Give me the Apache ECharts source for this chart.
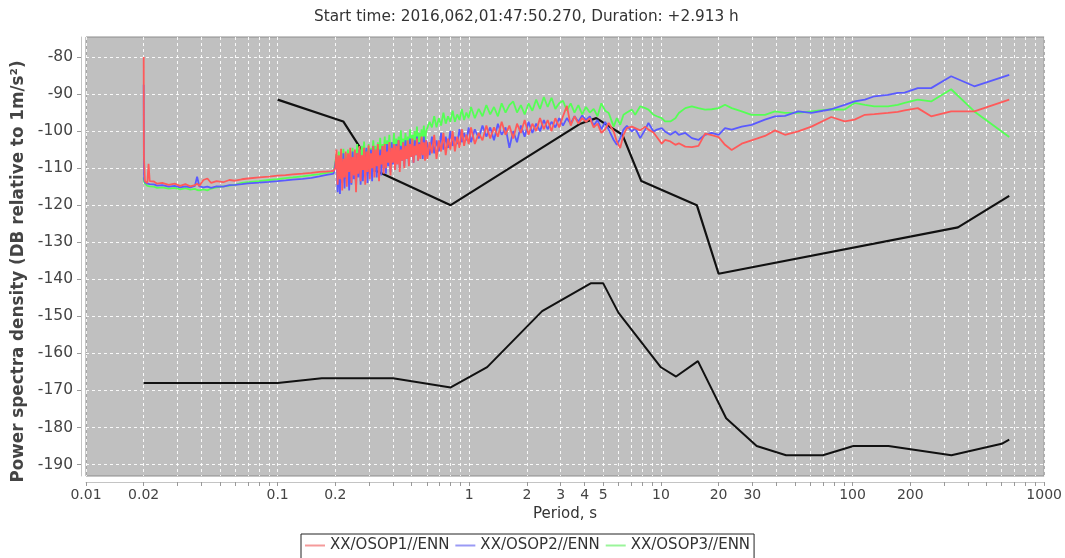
<!DOCTYPE html>
<html>
<head>
<meta charset="utf-8">
<script src="https://cdn.jsdelivr.net/npm/echarts@6.0.0/dist/echarts.min.js"></script>
<style>
html,body{margin:0;padding:0;background:#fff;}
#chart{width:1065px;height:558px;}
</style>
</head>
<body>
<div id="chart"></div>
<script>
// ---------- DATA ----------
const titleText = 'Start time: 2016,062,01:47:50.270, Duration: +2.913 h';
const seriesNames = ['XX/OSOP1//ENN', 'XX/OSOP2//ENN', 'XX/OSOP3//ENN'];

const xTickValues = [0.01,0.02,0.03,0.04,0.05,0.06,0.07,0.08,0.09,
  0.1,0.2,0.3,0.4,0.5,0.6,0.7,0.8,0.9,
  1,2,3,4,5,6,7,8,9,
  10,20,30,40,50,60,70,80,90,
  100,200,300,400,500,600,700,800,900,1000];
const xLabelValues = [0.01,0.02,0.1,0.2,1,2,3,4,5,10,20,30,100,200,1000];
const yTickValues = [-190,-180,-170,-160,-150,-140,-130,-120,-110,-100,-90,-80];

// periods (s)
const periodsShort = [0.0200,0.02005,0.0201,0.0203,0.0206,0.0209,0.0212,0.0215,0.022,0.0226,
  0.0235,0.025,0.027,0.029,0.031,0.033,0.035,0.037,0.038,0.039,
  0.041,0.043,0.045,0.048,0.052,0.056,0.06,0.065,0.07,0.08,
  0.09,0.1,0.11,0.12,0.135,0.15,0.165,0.18,0.19,0.196];
const periodsNoisyA = [0.2000,0.2028,0.2056,0.2085,0.2114,0.2143,0.2173,0.2203,0.2234,0.2265,
  0.2296,0.2328,0.2361,0.2394,0.2427,0.2461,0.2495,0.2530,0.2565,0.2600,
  0.2636,0.2673,0.2710,0.2748,0.2786,0.2825,0.2864,0.2904,0.2944,0.2985,
  0.3027,0.3069,0.3112,0.3155,0.3199,0.3243,0.3289,0.3334,0.3381,0.3428,
  0.3475,0.3524,0.3573,0.3622,0.3673,0.3724,0.3776,0.3828,0.3882,0.3936,
  0.3990,0.4046,0.4102,0.4159,0.4217,0.4276,0.4335,0.4396,0.4457,0.4519,
  0.4581,0.4645,0.4710,0.4775,0.4842,0.4909,0.4977,0.5047,0.5117,0.5188,
  0.5260,0.5333,0.5408,0.5483,0.5559,0.5636,0.5715,0.5794,0.5875,0.5957];
const periodsNoisyB = [0.6040,0.6209,0.6383,0.6562,0.6746,0.6935,0.7129,0.7329,0.7534,0.7745,
  0.7962,0.8185,0.8414,0.8650,0.8892,0.9141,0.9397,0.9660,0.9931];
const periodsNoisyC = [1.021,1.069,1.120,1.172,1.228,1.286,1.346,1.410,1.476,1.546,
  1.619,1.695,1.775,1.858,1.946,2.038,2.134,2.234,2.340,2.450,
  2.565,2.686,2.813,2.945,3.084,3.230,3.382,3.541,3.708,3.883,
  4.066,4.258,4.458,4.669,4.889,5.119];
const periodsLong = [5.34,5.67,5.89,6.13,6.38,6.64,7.06,7.34,7.80,8.28,
  8.61,9.15,9.52,10.1,10.5,11.2,11.9,12.4,13.4,14.5,
  15.7,17.0,18.4,20.0,21.6,23.4,26.4,29.7,34.9,39.4,
  44.4,52.0,61.0,77.4,91.0,102.5,116,130,153,172,
  187,219,257,327,432,657];

// XX/OSOP1//ENN (red)
const osop1Short = [-80.0,-106.5,-107.0,-113.5,-113.8,-114.0,-108.8,-113.5,-114.0,-113.6,
  -114.2,-114.0,-114.5,-114.2,-114.8,-114.3,-114.9,-114.6,-114.2,-114.8,
  -113.2,-112.8,-114.0,-113.5,-113.8,-113.2,-113.4,-113.0,-112.8,-112.5,
  -112.3,-112.0,-111.9,-111.7,-111.5,-111.3,-111.0,-110.9,-110.8,-110.7];
const osop1NoisyA = [-110.0,-105.0,-114.5,-106.5,-113.0,-104.8,-116.0,-107.5,-112.5,-105.5,
  -115.0,-106.0,-111.0,-104.5,-114.0,-107.0,-112.0,-105.0,-116.5,-106.0,
  -111.5,-104.0,-113.5,-106.5,-110.5,-104.5,-114.5,-105.5,-111.0,-103.8,
  -113.0,-106.0,-110.0,-104.0,-112.5,-105.0,-109.5,-103.5,-113.5,-106.5,
  -109.0,-104.0,-111.5,-103.5,-110.0,-105.5,-108.5,-103.0,-112.0,-104.5,
  -108.5,-103.5,-110.5,-104.0,-109.0,-102.5,-111.0,-105.0,-108.0,-103.0,
  -110.0,-104.0,-107.5,-102.5,-109.5,-103.5,-107.0,-102.0,-108.5,-104.0,
  -106.5,-102.0,-108.0,-103.5,-107.5,-101.5,-106.5,-103.0,-108.0,-102.5];
const osop1NoisyB = [-107.5,-103.0,-106.0,-101.0,-107.5,-102.5,-105.5,-100.5,-106.5,-102.0,
  -105.0,-100.0,-105.5,-101.5,-104.5,-99.5,-104.0,-101.0,-103.5];
const osop1NoisyC = [-99.0,-103.5,-100.5,-102.5,-98.5,-102.0,-99.0,-101.5,-97.5,-101.0,
  -98.5,-102.0,-98.0,-100.5,-97.0,-101.0,-98.0,-100.0,-96.5,-99.5,
  -97.0,-100.0,-96.5,-99.0,-96.0,-93.2,-98.5,-96.0,-98.0,-96.5,
  -97.5,-96.5,-99.0,-98.0,-100.5,-99.5];
const osop1Long = [-97.8,-100.1,-102.8,-104.6,-101.0,-99.2,-98.8,-99.2,-99.8,-98.8,
  -99.6,-100.4,-101.6,-103.4,-102.4,-102.8,-103.7,-103.3,-104.2,-104.3,
  -104.0,-100.7,-101.1,-101.6,-103.7,-105.1,-103.4,-102.5,-101.3,-99.8,
  -101.0,-100.1,-98.8,-96.2,-97.4,-96.9,-95.6,-95.4,-95.1,-94.8,
  -94.4,-93.8,-96.0,-94.7,-94.7,-91.5];

// XX/OSOP2//ENN (blue)
const osop2Short = [-87.5,-109.0,-113.0,-113.8,-114.0,-114.2,-114.0,-114.3,-114.5,-114.4,
  -114.7,-114.6,-115.0,-114.8,-115.2,-114.9,-115.2,-114.8,-112.3,-114.9,
  -115.2,-115.0,-115.3,-114.9,-115.0,-114.6,-114.5,-114.3,-114.1,-113.9,
  -113.7,-113.5,-113.3,-113.1,-112.9,-112.6,-112.2,-111.8,-111.6,-111.5];
const osop2NoisyA = [-111.5,-107.0,-116.5,-108.5,-117.0,-107.5,-114.0,-106.0,-115.5,-108.0,
  -113.0,-106.5,-116.0,-107.0,-114.5,-105.5,-113.0,-108.5,-115.5,-106.0,
  -112.5,-105.0,-114.5,-107.0,-113.5,-105.5,-112.0,-104.5,-114.0,-106.5,
  -111.5,-105.0,-113.5,-104.0,-111.0,-106.0,-112.5,-104.5,-110.5,-105.0,
  -112.0,-104.0,-110.0,-105.5,-111.5,-103.5,-109.5,-104.5,-111.0,-103.0,
  -109.0,-104.5,-110.5,-103.5,-108.5,-102.5,-110.0,-104.0,-108.0,-103.0,
  -109.5,-102.5,-107.5,-104.0,-109.0,-102.0,-107.0,-103.5,-108.5,-102.5,
  -106.5,-101.5,-108.0,-103.0,-106.5,-102.0,-107.5,-101.5,-106.0,-102.5];
const osop2NoisyB = [-103.5,-106.5,-101.5,-106.0,-102.5,-105.5,-100.5,-105.0,-101.5,-104.5,
  -100.0,-104.0,-101.5,-103.5,-99.5,-103.0,-100.5,-102.5,-99.0];
const osop2NoisyC = [-103.0,-99.5,-102.0,-98.5,-101.5,-99.0,-102.5,-98.0,-101.0,-99.0,
  -104.5,-100.0,-103.0,-98.5,-101.5,-97.5,-100.5,-98.0,-100.0,-97.0,
  -99.5,-97.5,-99.0,-96.5,-98.5,-96.5,-98.0,-96.0,-97.5,-95.8,
  -97.0,-96.0,-98.5,-97.0,-99.5,-97.5];
const osop2Long = [-99.6,-102.4,-103.7,-101.9,-99.6,-98.6,-100.1,-99.2,-101.9,-99.6,
  -97.8,-100.1,-99.6,-99.2,-100.1,-101.0,-100.1,-101.0,-100.5,-101.9,
  -102.4,-101.0,-100.5,-101.0,-99.2,-99.6,-98.8,-98.3,-96.9,-96.0,
  -95.9,-94.7,-95.1,-94.1,-92.9,-92.0,-91.5,-90.6,-90.2,-89.7,
  -89.6,-88.4,-88.4,-85.2,-87.9,-84.8];

// XX/OSOP3//ENN (green)
const osop3Short = [-112.5,-113.5,-113.9,-114.2,-114.6,-114.8,-115.0,-114.9,-115.1,-115.0,
  -115.3,-115.2,-115.5,-115.3,-115.7,-115.4,-115.8,-115.6,-115.9,-116.0,
  -115.7,-116.0,-115.5,-115.2,-114.9,-114.7,-114.5,-114.0,-113.8,-113.5,
  -113.2,-113.0,-112.7,-112.5,-112.2,-111.9,-111.6,-111.3,-111.1,-111.0];
const osop3NoisyA = [-111.0,-106.5,-110.5,-105.5,-109.5,-107.0,-111.0,-104.8,-110.0,-106.0,
  -109.5,-105.0,-110.5,-106.5,-109.0,-104.5,
  -110.0,-105.5,-108.5,-103.5,-109.5,-105.0,-108.0,-104.0,-109.0,-102.8,
  -108.5,-105.0,-107.5,-103.5,-108.5,-104.5,-107.0,-102.5,-108.0,-104.0,
  -107.5,-103.0,-107.0,-101.8,
  -107.0,-103.5,-106.5,-101.5,-107.0,-102.5,-106.0,-101.0,-106.5,-103.0,
  -105.5,-100.5,-106.0,-102.0,-105.5,-101.5,-105.0,-99.8,-105.5,-102.0,
  -104.5,-100.5,-105.0,-101.5,-104.0,-99.5,-104.5,-101.0,-103.5,-100.0,
  -104.0,-98.8,-103.5,-100.5,-103.0,-99.5,-103.5,-98.5,-102.5,-100.0];
const osop3NoisyB = [-99.5,-97.5,-99.0,-96.0,-99.0,-96.5,-98.5,-95.0,-98.0,-96.0,
  -97.5,-94.5,-97.5,-95.5,-97.0,-94.0,-97.0,-95.0,-96.5];
const osop3NoisyC = [-93.5,-96.5,-94.0,-96.0,-93.0,-95.5,-93.5,-96.0,-92.5,-95.0,
  -93.0,-92.0,-95.0,-93.0,-95.5,-92.5,-94.5,-91.5,-94.0,-90.8,
  -93.5,-91.0,-94.0,-92.5,-91.8,-94.5,-92.5,-95.0,-93.0,-95.5,
  -93.5,-95.0,-94.0,-96.0,-92.5,-94.5];
const osop3Long = [-95.1,-98.8,-96.5,-98.3,-95.6,-95.0,-94.2,-95.6,-93.3,-93.8,
  -94.2,-95.6,-96.0,-96.5,-97.4,-97.4,-96.5,-95.1,-93.8,-93.3,
  -93.8,-94.2,-94.1,-93.8,-92.9,-93.8,-94.7,-95.6,-95.6,-94.7,
  -95.1,-95.1,-94.7,-94.1,-94.2,-92.4,-92.9,-93.3,-93.3,-92.9,
  -92.4,-91.5,-92.0,-88.7,-94.7,-101.6];

// New High Noise Model (upper black)
const nhnmPeriods = [0.1,0.22,0.32,0.8,3.8,4.6,6.3,7.9,15.4,20,354.8,657];
const nhnmValues  = [-91.5,-97.4,-110.5,-120.0,-98.0,-96.5,-101.0,-113.5,-120.0,-138.5,-126.0,-117.5];
// New Low Noise Model (lower black)
const nlnmPeriods = [0.02,0.1,0.17,0.4,0.8,1.24,2.4,4.3,5.0,6.0,10.0,12.0,15.6,21.9,31.6,45,70,101,154,328,600,657];
const nlnmValues  = [-168.0,-168.0,-166.7,-166.7,-169.2,-163.7,-148.6,-141.1,-141.1,-149.0,-163.75,-166.25,-162.1,-177.5,-185.0,-187.5,-187.5,-185.0,-185.0,-187.5,-184.4,-183.3];

// ---------- BUILD ----------
function zip(ps, vs){ const out=[]; const n=Math.min(ps.length, vs.length); for(let i=0;i<n;i++) out.push([ps[i], vs[i]]); return out; }
const periodsAll = periodsShort.concat(periodsNoisyA, periodsNoisyB, periodsNoisyC, periodsLong);
const red   = zip(periodsAll, osop1Short.concat(osop1NoisyA, osop1NoisyB, osop1NoisyC, osop1Long));
const blue  = zip(periodsAll, osop2Short.concat(osop2NoisyA, osop2NoisyB, osop2NoisyC, osop2Long));
const green = zip(periodsAll, osop3Short.concat(osop3NoisyA, osop3NoisyB, osop3NoisyC, osop3Long));

const FONT = 'DejaVu Sans';
const chart = echarts.init(document.getElementById('chart'), null, {renderer:'canvas'});

const option = {
  animation: false,
  backgroundColor: '#ffffff',
  title: {
    text: titleText, left: 309, top: 5,
    textStyle: {fontFamily: FONT, fontSize: 15.3, fontWeight: 'normal', color: '#333'}
  },
  grid: {
    left: 86, top: 37, width: 961, height: 439,
    show: true, backgroundColor: '#c0c0c0', borderColor: '#8c8c8c', borderWidth: 1
  },
  legend: {
    data: [
      {name: seriesNames[0], itemStyle: {color: '#f59a9a'}},
      {name: seriesNames[1], itemStyle: {color: '#9a9af5'}},
      {name: seriesNames[2], itemStyle: {color: '#9af59a'}}
    ],
    left: 301, top: 534, orient: 'horizontal',
    icon: 'rect', itemWidth: 20, itemHeight: 2, itemGap: 6,
    borderColor: '#222', borderWidth: 1, padding: [4, 4, 8, 4],
    textStyle: {fontFamily: FONT, fontSize: 15, color: '#333'}
  },
  xAxis: {
    type: 'log', logBase: 10, min: 0.01, max: 1000, offset: 6,
    name: 'Period, s', nameLocation: 'middle', nameGap: 23,
    nameTextStyle: {fontFamily: FONT, fontSize: 15, color: '#333'},
    axisLine: {show: true, lineStyle: {color: '#c4c4c4', width: 1}},
    axisTick: {show: true, inside: false, length: 4, customValues: xTickValues, lineStyle: {color: '#999'}},
    axisLabel: {
      customValues: xLabelValues, fontFamily: FONT, fontSize: 14, color: '#444', margin: 6,
      showMinLabel: true, showMaxLabel: true,
      formatter: function(v){ return String(parseFloat(Number(v).toPrecision(3))); }
    },
    splitLine: {show: true, lineStyle: {color: 'rgba(255,255,255,0.9)', width: 1, type: [3, 3]}},
    minorTick: {show: false}, minorSplitLine: {show: false}
  },
  yAxis: {
    type: 'value', min: -193.1, max: -74.6, offset: 5,
    name: 'Power spectra density (DB relative to 1m/s²)', nameLocation: 'middle', nameGap: 52,
    nameTextStyle: {fontFamily: FONT, fontSize: 16.8, fontWeight: 'bold', color: '#444', padding: [0, 30, 0, 0]},
    axisLine: {show: true, lineStyle: {color: '#c4c4c4', width: 1}},
    axisTick: {show: true, length: 4, customValues: yTickValues, lineStyle: {color: '#999'}},
    axisLabel: {customValues: yTickValues, fontFamily: FONT, fontSize: 15.5, color: '#444', margin: 8},
    splitLine: {show: true, lineStyle: {color: 'rgba(255,255,255,0.9)', width: 1, type: [3, 3]}}
  },
  series: [
    {name: 'NLNM', type: 'line', data: zip(nlnmPeriods, nlnmValues), showSymbol: false, symbol: 'none',
     lineStyle: {color: '#111', width: 2}, itemStyle: {color: '#111'}, z: 2},
    {name: 'NHNM', type: 'line', data: zip(nhnmPeriods, nhnmValues), showSymbol: false, symbol: 'none',
     lineStyle: {color: '#111', width: 2.2}, itemStyle: {color: '#111'}, z: 2},
    {name: seriesNames[2], type: 'line', data: green, showSymbol: false, symbol: 'none',
     lineStyle: {color: '#55ff55', width: 1.8}, itemStyle: {color: '#55ff55'}, z: 3},
    {name: seriesNames[1], type: 'line', data: blue, showSymbol: false, symbol: 'none',
     lineStyle: {color: '#5a5aff', width: 1.8}, itemStyle: {color: '#5a5aff'}, z: 4},
    {name: seriesNames[0], type: 'line', data: red, showSymbol: false, symbol: 'none',
     lineStyle: {color: '#ff5a5a', width: 1.8}, itemStyle: {color: '#ff5a5a'}, z: 5}
  ]
};
chart.setOption(option);
</script>
</body>
</html>
